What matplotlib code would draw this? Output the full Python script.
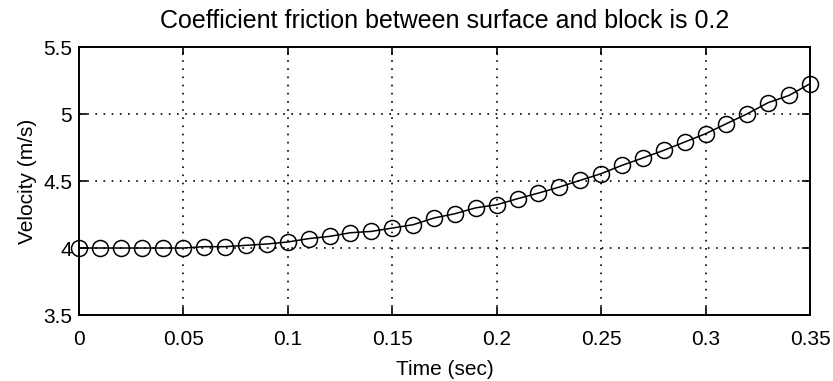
import numpy as np
import matplotlib
matplotlib.use('Agg')
import matplotlib.pyplot as plt

# time samples (sec) and velocity (m/s)
time = [0.00, 0.01, 0.02, 0.03, 0.04, 0.05, 0.06, 0.07, 0.08, 0.09,
        0.10, 0.11, 0.12, 0.13, 0.14, 0.15, 0.16, 0.17, 0.18, 0.19,
        0.20, 0.21, 0.22, 0.23, 0.24, 0.25, 0.26, 0.27, 0.28, 0.29,
        0.30, 0.31, 0.32, 0.33, 0.34, 0.35]
velocity = [4.000, 4.000, 4.000, 4.000, 4.000, 4.000, 4.010, 4.010, 4.020, 4.030,
            4.045, 4.070, 4.087, 4.114, 4.124, 4.149, 4.174, 4.224, 4.256, 4.300,
            4.323, 4.368, 4.410, 4.455, 4.505, 4.555, 4.617, 4.672, 4.729, 4.791,
            4.853, 4.928, 5.002, 5.085, 5.139, 5.226]

xticks = [0, 0.05, 0.1, 0.15, 0.2, 0.25, 0.3, 0.35]
xticklabels = ['0', '0.05', '0.1', '0.15', '0.2', '0.25', '0.3', '0.35']
yticks = [3.5, 4, 4.5, 5, 5.5]
yticklabels = ['3.5', '4', '4.5', '5', '5.5']


def main():
    plt.rcParams['font.family'] = ['Liberation Sans', 'DejaVu Sans']
    plt.rcParams['font.size'] = 15

    fig = plt.figure(figsize=(8.33, 3.81), dpi=100)
    ax = fig.add_axes([0.0948, 0.1732, 0.8776, 0.7034])

    ax.plot(time, velocity, '-o', color='black', linewidth=1.1,
            markersize=11.5, markerfacecolor='none', markeredgewidth=1.1,
            clip_on=False, zorder=3)

    ax.set_xlim(0, 0.35)
    ax.set_ylim(3.5, 5.5)
    ax.set_xticks(xticks)
    ax.set_xticklabels(xticklabels)
    ax.set_yticks(yticks)
    ax.set_yticklabels(yticklabels)

    ax.tick_params(direction='in', top=True, right=True, length=6,
                   width=1.2, colors='black')
    ax.tick_params(axis='x', pad=11)
    ax.tick_params(axis='y', pad=5)
    for s in ax.spines.values():
        s.set_linewidth(1.4)

    ax.grid(True, linestyle=(0, (1, 3.9)), color='black', linewidth=1.2)

    ax.set_xlabel('Time (sec)', labelpad=8)
    ax.set_ylabel('Velocity (m/s)', labelpad=4)
    ax.set_title('Coefficient friction between surface and block is 0.2', pad=14)

    fig.savefig('out.png', dpi=100)


if __name__ == '__main__':
    main()
